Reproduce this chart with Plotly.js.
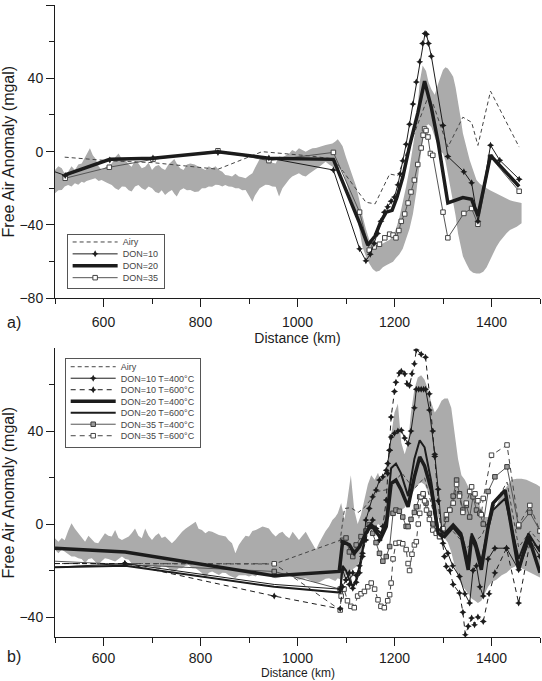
<!DOCTYPE html>
<html><head><meta charset="utf-8">
<script src="https://cdn.plot.ly/plotly-3.0.1.min.js"></script>
<style>html,body{margin:0;padding:0;background:#fff}#chart{width:542px;height:681px}</style>
</head><body><div id="chart"></div>
<script>
// ---------------- Panel a data ----------------
const aBandX = [500,507,514,520,527,534,541,548,555,560,565,572,578,583,590,596,607,617,624,631,638,645,652,658,665,672,679,686,693,700,707,714,720,727,734,741,746,751,758,765,772,779,788,796,803,810,817,824,831,838,845,851,858,865,872,879,886,893,900,907,912,917,922,927,934,941,948,955,962,969,976,983,989,996,1003,1010,1017,1024,1031,1038,1045,1052,1058,1065,1072,1078,1083,1088,1093,1100,1107,1114,1121,1128,1134,1141,1148,1155,1162,1169,1176,1183,1190,1197,1203,1210,1217,1224,1231,1238,1245,1252,1258,1265,1270,1276,1283,1290,1296,1300,1305,1310,1316,1321,1326,1331,1336,1341,1348,1355,1362,1369,1376,1383,1390,1397,1404,1410,1417,1424,1431,1438,1445,1452,1462];
const aBandTop = [-10,-8,-9,-12,-11,-8,-10,-7,-6.4,-4,-1,1.8,-2,-3.6,-8,-10,-8,-6.4,-3,-1,-4,-4.5,-7,-8.2,-5,-6.4,-9,-8.2,-6,-10,-8,-7.3,-9,-10,-7,-5.5,-4,-6.4,-9,-10,-7,-6.4,-7,-8.2,-9,-10,-8,-9.1,-8,-10,-11,-12.7,-13,-13.6,-12,-13.6,-14,-14.5,-13,-11.8,-9,-6.4,-4,-2.7,-3,-4.5,-6,-6.4,-2.7,-3,-1.8,-1,0.9,0,1.8,1,0,1,1.8,2,2.7,3,3.6,4,4.5,5.5,6.7,5,3,-3,-8,-13,-19,-27,-35,-42,-48,-50,-52,-51,-50,-49,-48,-46,-42,-36,-28,-19,-9,2,15,38,47,44,38,34,31,37,42,44.5,46,45.4,43,40.8,35,28,19,10,2,-4.6,-10,-15.5,-17.5,-19,-20,-21,-22,-22.8,-23.5,-24.5,-25.5,-26.5,-27,-27.3,-28];
const aBandBot = [-22.7,-21,-20.9,-19,-18.2,-19,-17.3,-18,-16.4,-17,-16,-15.5,-15,-14.5,-16,-15.5,-17,-18.2,-20,-20.9,-19,-19.1,-21,-21.8,-19,-18.2,-20,-20.9,-19,-20,-22,-22.7,-21,-23.6,-22,-20.9,-23,-24.5,-21,-20,-21,-20.9,-22,-21.8,-20,-20,-19,-19.1,-18,-18.2,-19,-18.2,-19,-19.1,-20,-20,-21,-20.9,-24,-27.3,-24,-21.8,-20,-19.1,-18,-18.2,-19,-19.1,-24.5,-20,-17.3,-15,-13.6,-12.5,-11.8,-13,-13.6,-12,-10.9,-9.5,-8.2,-7,-5.5,-7,-8.2,-9,-10,-9,-10,-16,-23,-28,-34,-43,-52,-57,-61,-64,-65.5,-65,-63,-62,-61,-60,-58,-56,-53,-48,-42,-34,-22,-6,6,14,15,13.5,8,2.6,0,-1,-5,-12,-19,-26.5,-35,-44.6,-51,-57,-61,-64.6,-66,-66.5,-66.5,-65.5,-63,-59,-55,-52,-49,-46.5,-44.5,-42.8,-41.8,-41,-39];

const aAiryX = [520,613,702,836,927,1024,1075,1141,1160,1190,1207,1221,1248,1268,1279,1310,1341,1359,1372,1398,1457];
const aAiryY = [-3,-5,-6,-9.6,0,-2.3,-4,-27.6,-28.5,-12.2,-13.1,-3.1,15,29,26.5,2.5,18.8,16,3.4,33,2.5];

const aD10X = [500,521,613,702,836,941,1074,1128,1141,1150,1158,1165,1172,1179,1186,1193,1200,1207,1212,1217,1224,1231,1238,1245,1252,1258,1263,1266,1270,1276,1300,1310,1343,1359,1372,1398,1417,1457];
const aD10Y = [-11,-13,-4.5,-3.5,-0.5,-3.5,-10,-53,-59.5,-56,-50,-44.6,-38,-33,-30,-27,-24.7,-18,-12,-5,4,15,26,38,49,59,64.5,64,59,52,14.3,-2.7,-11,-17,-38,3.5,-4.7,-15];

const aD20X = [521,613,702,836,941,1074,1128,1145,1160,1172,1183,1195,1205,1217,1231,1248,1262,1276,1290,1310,1341,1359,1372,1398,1457];
const aD20Y = [-12.7,-4.2,-3.6,0,-3.6,-4.2,-39,-51,-46,-38,-33,-32,-25,-14,3,21,38.5,24,5,-28,-25,-26,-35,-2,-19];

const aD35X = [521,612,702,836,941,1074,1128,1148,1158,1169,1180,1190,1197,1203,1209,1214,1221,1228,1234,1241,1248,1255,1259,1262,1265,1269,1274,1279,1300,1310,1343,1359,1372,1398,1457];
const aD35Y = [-14.5,-8.5,-4.2,0.5,-4.9,-0.4,-33,-53.7,-52,-50.5,-47,-45,-45.5,-47,-43,-38,-34,-28,-22,-15.5,-7,2,9,12.4,11.5,8,-1,-2,-33,-47,-33.7,-31,-39.6,-3,-21.6];

// ---------------- Panel b data ----------------
const bBandX = [500,507,514,520,527,534,541,548,555,562,569,576,582,589,596,603,610,617,624,631,638,645,652,658,665,672,679,686,693,700,707,714,720,727,734,741,748,755,762,769,776,783,790,796,803,810,817,824,831,838,845,852,858,865,872,879,886,893,900,907,914,921,928,935,941,948,955,962,969,976,983,990,996,1003,1010,1017,1024,1031,1038,1045,1052,1058,1065,1072,1078,1083,1090,1097,1104,1110,1117,1124,1131,1138,1145,1152,1159,1166,1172,1179,1186,1193,1200,1207,1214,1221,1228,1234,1241,1248,1255,1262,1269,1276,1283,1290,1297,1303,1310,1317,1324,1331,1338,1345,1352,1359,1366,1372,1379,1386,1393,1400,1410,1421,1431,1441,1452,1462,1472,1483,1493,1500];
const bBandTop = [-6.1,-7.6,-6,-7,-3,0.3,-2,-4,-6,-7.6,-5,-6.9,-8,-8.3,-6,-4,-5,-5.4,-2.6,-6,-6.9,-6,-5.4,-4,-1.9,-5,-6.1,-1.9,-5,-6.9,-5,-4,-6,-5.4,-7,-8.3,-6.9,-5,-3.3,-2,-1.1,0,1,-2,-2.6,-4,-3,-3.3,-4,-4.7,-5,-5.4,-7,-8.3,-12.6,-9,-6.9,-5,-5.4,-3,-2.6,-2,-1.1,-1.5,-1.9,-4,-5.4,-4,-3.3,-5,-6.1,-3.3,-5,-6.9,-5,-3.3,-6,-8.3,-11.1,-8,-5.4,-3,-1.1,1.7,3,4.6,9,2,12,21,6,0,4,10,17,21,19,22,18,22,25,38,48,51.7,35,30,35,48,58,63,64,62,58,52,48,50,53,54,54,50,40,28,21,19,16,13,12,10,6,3,3,4,8,13,16,19,19.5,19.5,19,18,17,16];
const bBandBot = [-11.1,-12.6,-11,-12,-13,-14,-14,-14.7,-15,-16.9,-15,-14.7,-16,-17.6,-16,-14.7,-15,-15.4,-16.1,-15,-14,-15,-15.4,-17,-17.6,-17,-16.9,-18.3,-18,-17.6,-19,-19.7,-18,-18.3,-19,-20.4,-20.4,-19,-19,-18,-17.6,-19,-19,-20,-21.1,-23.3,-21,-20.4,-21,-21.9,-21,-21.1,-22,-22.6,-23.3,-22,-21.9,-22,-22.6,-22,-22.6,-21,-21.1,-21.5,-21.9,-23,-23.3,-23,-22.6,-22,-21.9,-22.6,-23,-24,-23.5,-23.3,-24,-24.7,-25.4,-25,-24,-23.5,-23.3,-24,-24.5,-23.3,-24,-23,-21,-20,-19,-18,-14,-9,-4,-1,-2,0,-1,0,2,4,5,5,6,7,9,12,15,17,18,17,14,11,7,3,-2,-6,-8,-12,-18,-23,-26,-28,-30,-32,-33,-34,-33,-30,-27,-25,-24,-22,-21,-19,-18,-19,-20,-21,-22,-23];

const bAiryX = [500,952,1088,1097,1110,1125,1136,1150,1165,1190,1215,1240,1262,1290,1320,1350,1380,1410,1432,1456,1480,1500];
const bAiryY = [-17,-17.2,-7,6.7,7,5,6.7,10,14,15,22,15,20,-3,-3,-10,-5,10,18,-10,-3,-8];

const bD10aX = [500,644,952,1088,1093,1100,1107,1114,1121,1128,1134,1141,1148,1155,1162,1169,1176,1183,1186,1190,1193,1200,1207,1214,1221,1228,1234,1241,1245,1250,1255,1260,1264,1272,1283,1290,1300,1310,1320,1334,1345,1355,1362,1369,1376,1383,1393,1407,1431,1456,1479,1500];
const bD10aY = [-18.6,-17,-26,-28,-19.7,-24,-21,-27.6,-25,-21,-14,1.7,6.7,11.7,14.6,18.9,20.3,23.1,26,31.7,37.4,39,40,40.3,37,34.6,40,50,58,58,58,58,58,49,30,15,-8.3,-12.6,-18,-22.6,-30,-34,-20,-18,-27,-31,-15,-10.4,-10.4,-19.7,-7,-14];

const bD10bX = [500,644,952,1088,1093,1100,1107,1114,1121,1128,1134,1141,1148,1155,1162,1169,1176,1183,1186,1190,1193,1200,1203,1210,1214,1221,1226,1231,1236,1241,1245,1255,1264,1272,1279,1283,1290,1297,1303,1307,1314,1321,1334,1341,1346,1352,1359,1365,1372,1383,1395,1407,1431,1456,1479,1500];
const bD10bY = [-17,-17,-31,-36.5,-27,-24,-26,-21,-22,-18,-12.6,-6.9,-1.1,1.7,-1.9,-6.9,-1.1,10.3,21.7,31.7,46,57,61,65,65.7,64.6,60.3,59.6,64.6,68.9,74.9,73,71.7,56,40,29,10,-5,-14,-18.3,-20,-26,-29.7,-38,-47.6,-44,-40.4,-43.3,-40,-41.9,-30,-21,-10.4,-34,-8.3,-10];

const bD20aX = [500,645,952,1086,1093,1107,1117,1128,1141,1152,1162,1172,1183,1193,1203,1213,1228,1241,1252,1262,1276,1290,1303,1321,1338,1352,1359,1368,1379,1393,1403,1428,1456,1476,1500];
const bD20aY = [-10.4,-12,-22.3,-20.4,-7.6,-9,-12.6,-9.7,-4,-0.4,-3.3,-6.1,-1.1,17.4,18.9,15,7.4,20.3,28.9,25,14.6,-4,-5.4,-1.1,-5.4,-19.7,-5.4,-10,-19.7,-1.1,8.9,14.6,-19.7,-5.4,-21];

const bD20bX = [500,645,952,1088,1093,1100,1107,1114,1121,1128,1135,1141,1152,1162,1172,1183,1193,1203,1213,1228,1241,1252,1262,1276,1290,1303,1321,1338,1352,1359,1368,1379,1393,1403,1428,1456,1476,1500];
const bD20bY = [-18.6,-18,-27,-29.5,-18,-20,-24,-27,-24,-18,-10,-4,0,-2,-4,2,24,26,22,12,28,36,33,18,-2,-4,0,-4,-16,-4,-8,-16,-2,6,11,-15,-4,-12];

const bD35aX = [500,952,1088,1093,1100,1107,1114,1121,1131,1141,1148,1155,1162,1169,1176,1183,1190,1197,1203,1210,1217,1224,1228,1234,1241,1245,1252,1259,1265,1272,1279,1286,1293,1300,1307,1314,1321,1328,1334,1341,1348,1355,1362,1369,1376,1383,1393,1407,1432,1456,1479,1500];
const bD35aY = [-16,-20.4,-28,-7,-6,-12,-14,-9,-5.4,-3,-0.4,-4,-8,-12.6,-16,-14,-9.7,4.6,6,5.5,3,-1,-1.1,2,5,7.4,11.7,12.4,9,4.6,0,-3,-5.4,-3,2,6,12,18.9,13,6,8,3,11.7,6,4.6,0,14,20.3,24.6,-1.1,5,-3];

const bD35bX = [500,952,1088,1090,1096,1103,1110,1117,1124,1131,1138,1145,1152,1159,1166,1172,1179,1186,1190,1193,1197,1203,1210,1217,1224,1228,1231,1236,1241,1245,1249,1252,1255,1259,1262,1266,1272,1279,1286,1293,1300,1307,1314,1321,1328,1334,1341,1348,1355,1359,1366,1372,1379,1383,1400,1432,1456,1479,1500];
const bD35bY = [-17,-17.1,-37,-31,-28,-33,-35.4,-36,-31,-30,-29,-27,-25.4,-28,-32.6,-35.4,-36,-33,-30.4,-25.4,-15,-8.3,-8,-8.5,-11,-17,-20,-13,-9,-7.6,0,4.6,11.7,13,10,6,2,-2.6,-4,-5.4,-2,4,6,9,17,12,5,9,14,16,13,10,4,11,29.6,34,-0.4,8,-3];

const xTicks = [600,800,1000,1200,1400];
const namesA = ['Airy','DON=10','DON=20','DON=35'];
const namesB = ['Airy','DON=10 T=400°C','DON=10 T=600°C','DON=20 T=400°C','DON=20 T=600°C','DON=35 T=400°C','DON=35 T=600°C'];

// ---------------- styling ----------------
const GRAY = '#ababab';
const INK = '#1c1c1c';
const FONT = 'Liberation Sans, Arial, Helvetica, sans-serif';

function vis(xs, hidden){ return xs.map(v => hidden.indexOf(v) >= 0 ? 0 : 1); }
function band(x, top, bot, xa, ya){
  return [
    {x:x, y:bot, xaxis:xa, yaxis:ya, mode:'lines', line:{width:0, color:GRAY}, showlegend:false, hoverinfo:'skip'},
    {x:x, y:top, xaxis:xa, yaxis:ya, mode:'lines', line:{width:0, color:GRAY}, fill:'tonexty', fillcolor:GRAY, showlegend:false, hoverinfo:'skip'}
  ];
}
const starM = (xs, hid) => ({symbol:'star-diamond', size:5, color:INK, opacity:vis(xs, hid), line:{width:0}});
const sqOpen = (xs, hid) => ({symbol:'square', size:4.5, color:'#ffffff', opacity:vis(xs, hid), line:{color:'#444', width:1}});
const sqGray = (xs, hid) => ({symbol:'square', size:4.5, color:'#9a9a9a', opacity:vis(xs, hid), line:{color:'#3a3a3a', width:1}});

const traces = [];
// panel a
traces.push(...band(aBandX, aBandTop, aBandBot, 'x', 'y'));
traces.push({x:aAiryX, y:aAiryY, name:namesA[0], legendrank:1, mode:'lines', line:{color:'#444', width:1, dash:'4px,3px'}, xaxis:'x', yaxis:'y'});
traces.push({x:aD35X, y:aD35Y, name:namesA[3], legendrank:4, mode:'lines+markers', line:{color:'#555', width:1}, marker:sqOpen(aD35X, []), xaxis:'x', yaxis:'y'});
traces.push({x:aD20X, y:aD20Y, name:namesA[2], legendrank:3, mode:'lines', line:{color:INK, width:3.5}, xaxis:'x', yaxis:'y'});
traces.push({x:aD10X, y:aD10Y, name:namesA[1], legendrank:2, mode:'lines+markers', line:{color:INK, width:1}, marker:starM(aD10X, [500]), xaxis:'x', yaxis:'y'});
// panel b
traces.push(...band(bBandX, bBandTop, bBandBot, 'x2', 'y2'));
const L2 = 'legend2';
traces.push({x:bAiryX, y:bAiryY, name:namesB[0], legend:L2, legendrank:1, mode:'lines', line:{color:'#444', width:1, dash:'4px,3px'}, xaxis:'x2', yaxis:'y2'});
traces.push({x:bD35aX, y:bD35aY, name:namesB[5], legend:L2, legendrank:6, mode:'lines+markers', line:{color:'#555', width:1}, marker:sqGray(bD35aX, [500]), xaxis:'x2', yaxis:'y2'});
traces.push({x:bD35bX, y:bD35bY, name:namesB[6], legend:L2, legendrank:7, mode:'lines+markers', line:{color:'#444', width:1, dash:'5px,4px'}, marker:sqOpen(bD35bX, [500]), xaxis:'x2', yaxis:'y2'});
traces.push({x:bD20bX, y:bD20bY, name:namesB[4], legend:L2, legendrank:5, mode:'lines', line:{color:INK, width:2}, xaxis:'x2', yaxis:'y2'});
traces.push({x:bD20aX, y:bD20aY, name:namesB[3], legend:L2, legendrank:4, mode:'lines', line:{color:INK, width:3.5}, xaxis:'x2', yaxis:'y2'});
traces.push({x:bD10aX, y:bD10aY, name:namesB[1], legend:L2, legendrank:2, mode:'lines+markers', line:{color:INK, width:1}, marker:starM(bD10aX, [500,952]), xaxis:'x2', yaxis:'y2'});
traces.push({x:bD10bX, y:bD10bY, name:namesB[2], legend:L2, legendrank:3, mode:'lines+markers', line:{color:INK, width:1, dash:'5px,4px'}, marker:starM(bD10bX, [500]), xaxis:'x2', yaxis:'y2'});

const xBase = {
  range:[500,1500], tickvals:xTicks, ticks:'outside', ticklen:8, tickwidth:1, tickcolor:INK,
  showline:true, linecolor:INK, linewidth:1, showgrid:false, zeroline:false, automargin:false,
  ticklabelstandoff:3, tickfont:{size:14, color:INK},
  minor:{dtick:100, tick0:500, ticks:'outside', ticklen:5, tickcolor:INK, tickwidth:1, showgrid:false}
};
const yBase = {
  ticks:'outside', ticklen:8, tickwidth:1, tickcolor:INK, showline:true, linecolor:INK, linewidth:1,
  showgrid:false, zeroline:false, automargin:false, tickfont:{size:14, color:INK},
  dtick:40, tick0:0,
  minor:{dtick:20, ticks:'outside', ticklen:5, tickcolor:INK, tickwidth:1, showgrid:false},
  title:{text:'Free Air Anomaly (mgal)', font:{size:16, color:INK}, standoff:3}
};
const legBase = {bgcolor:'#ffffff', bordercolor:'#555', borderwidth:1, font:{size:9, color:'#444', family:FONT}, itemwidth:45, traceorder:'normal', xanchor:'left', yanchor:'top'};

const layout = {
  width:542, height:681,
  margin:{l:55, r:2, t:5, b:44},
  paper_bgcolor:'#ffffff', plot_bgcolor:'#ffffff',
  font:{family:FONT, size:14, color:INK},
  showlegend:true,
  xaxis:Object.assign({}, xBase, {anchor:'y', domain:[0,1], title:{text:'Distance (km)', font:{size:14, color:INK}, standoff:2}}),
  yaxis:Object.assign({}, yBase, {anchor:'x', domain:[0.5359,1], range:[-80,80]}),
  xaxis2:Object.assign({}, xBase, {anchor:'y2', domain:[0,1], ticklabelstandoff:0}),
  yaxis2:Object.assign({}, yBase, {anchor:'x2', domain:[0,0.4565], range:[-48.6,75.5]}),
  legend:Object.assign({}, legBase, {x:0.024, y:0.6377}),
  legend2:Object.assign({}, legBase, {x:0.02, y:0.4419}),
  annotations:[
    {text:'a)', xref:'paper', yref:'paper', x:-0.085, y:0.4984, xanchor:'center', yanchor:'middle', showarrow:false, font:{size:16, color:INK}},
    {text:'b)', xref:'paper', yref:'paper', x:-0.085, y:-0.0301, xanchor:'center', yanchor:'middle', showarrow:false, font:{size:16, color:INK}},
    {text:'Distance (km)', xref:'paper', yref:'paper', x:0.5, y:-0.0696, xanchor:'center', yanchor:'bottom', showarrow:false, borderpad:0, font:{size:12, color:INK}}
  ]
};

// compact legend row spacing to match the reference boxes
const legendRows = {legend:{first:8, step:11.9, h:54}, legend2:{first:9, step:11.5, h:89}};

Plotly.newPlot('chart', traces, layout, {staticPlot:true, displayModeBar:false}).then(function(gd){
  Object.keys(legendRows).forEach(function(id){
    const g = gd.querySelector('g.' + id);
    if(!g) return;
    const s = legendRows[id];
    g.querySelectorAll('g.traces').forEach(function(it, i){
      const m = /translate\(\s*([-\d.e]+)[ ,]+([-\d.e]+)/.exec(it.getAttribute('transform') || '');
      const tx = m ? m[1] : 0;
      it.setAttribute('transform', 'translate(' + tx + ',' + (s.first + i * s.step) + ')');
    });
    const bg = g.querySelector('rect.bg');
    if(bg) bg.setAttribute('height', s.h);
  });
});
</script></body></html>
